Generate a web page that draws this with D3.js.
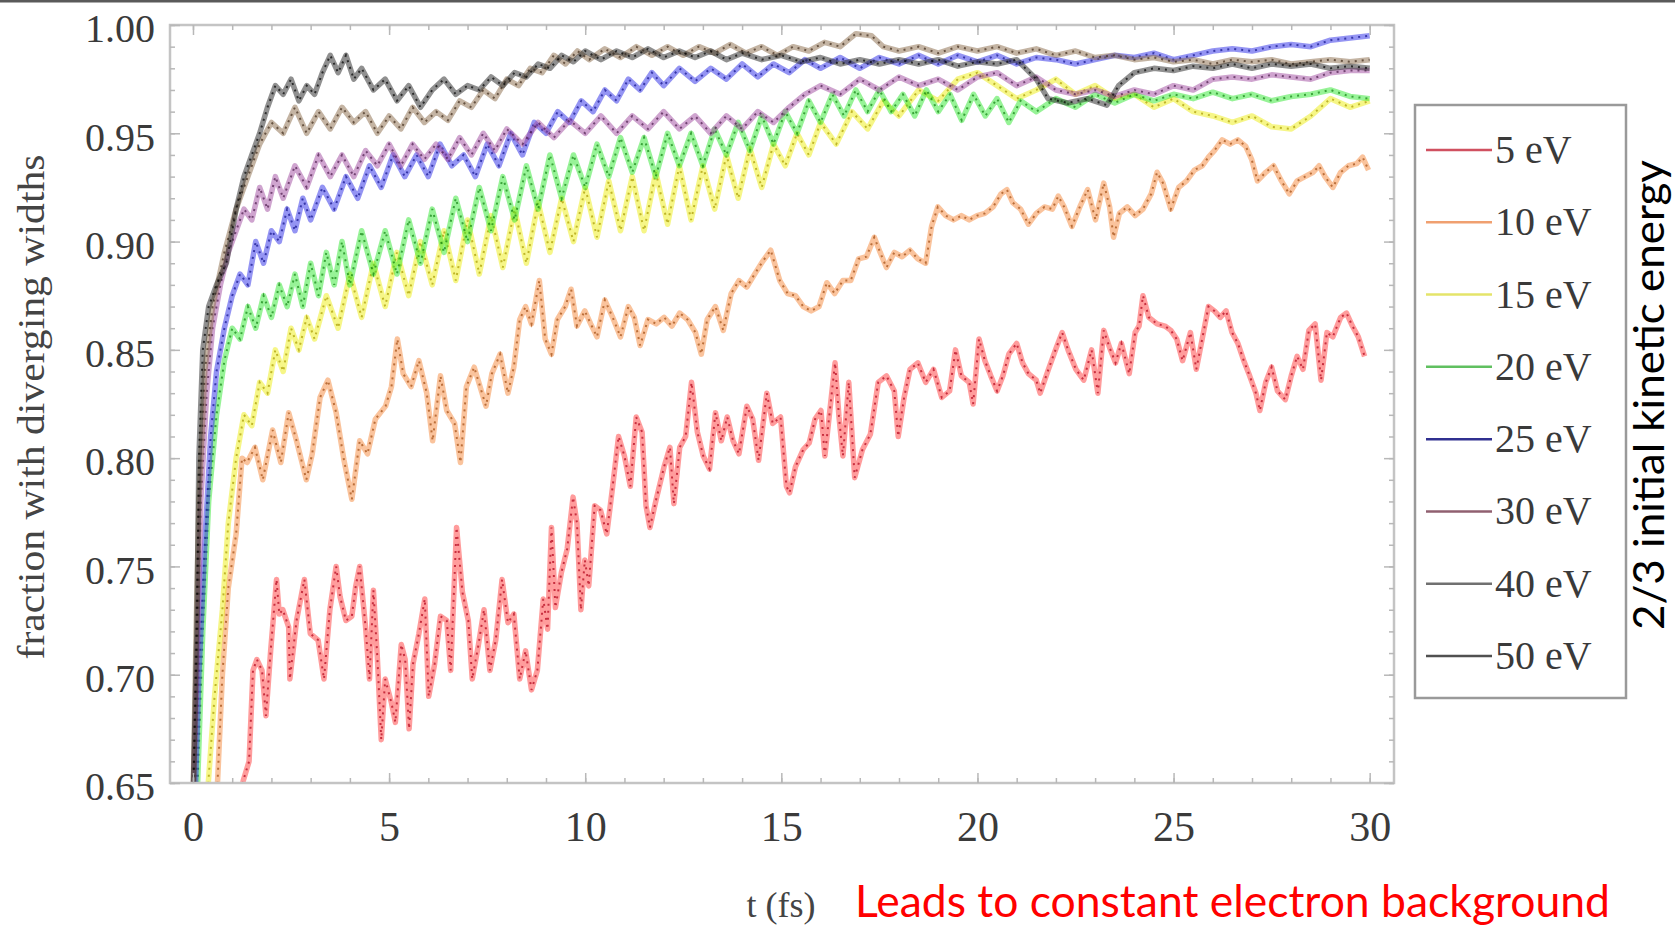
<!DOCTYPE html>
<html>
<head>
<meta charset="utf-8">
<script src="https://cdn.jsdelivr.net/npm/d3@7/dist/d3.min.js"></script>
<style>
  html, body { margin: 0; padding: 0; background: #fff; }
  svg { display: block; }
</style>
</head>
<body>
<svg id="chart" width="1675" height="930"></svg>
<script>
// ---------------- data (t in fs, fraction) ----------------
const seriesNames = ["5 eV", "10 eV", "15 eV", "20 eV", "25 eV", "30 eV", "40 eV", "50 eV"];
const xTickValues = [0, 5, 10, 15, 20, 25, 30];
const yTickValues = [0.65, 0.70, 0.75, 0.80, 0.85, 0.90, 0.95, 1.00];
const yLabel = "fraction with diverging widths";
const xLabel = "t (fs)";
const sideNote = "2/3 initial kinetic energy";
const footNote = "Leads to constant electron background";

const ev5 = [[1.2,0.64],[1.28,0.651],[1.43,0.660],[1.53,0.702],[1.63,0.707],[1.76,0.702],[1.86,0.681],[1.98,0.711],[2.13,0.744],[2.2,0.728],[2.29,0.730],[2.44,0.722],[2.47,0.698],[2.64,0.725],[2.84,0.744],[2.99,0.719],[3.19,0.716],[3.34,0.698],[3.49,0.730],[3.65,0.750],[3.75,0.736],[3.9,0.725],[4.05,0.727],[4.15,0.741],[4.25,0.750],[4.4,0.722],[4.5,0.698],[4.6,0.739],[4.7,0.708],[4.8,0.670],[4.9,0.698],[5.06,0.687],[5.16,0.678],[5.31,0.714],[5.41,0.707],[5.51,0.675],[5.61,0.705],[5.76,0.719],[5.91,0.735],[6.01,0.690],[6.16,0.705],[6.31,0.727],[6.47,0.725],[6.57,0.702],[6.72,0.768],[6.87,0.738],[7.02,0.725],[7.12,0.698],[7.27,0.713],[7.42,0.730],[7.57,0.702],[7.72,0.716],[7.88,0.744],[8.03,0.724],[8.18,0.728],[8.33,0.698],[8.48,0.711],[8.63,0.693],[8.78,0.702],[8.93,0.735],[9.04,0.721],[9.14,0.768],[9.24,0.731],[9.39,0.747],[9.54,0.758],[9.69,0.782],[9.79,0.770],[9.89,0.730],[9.99,0.753],[10.09,0.741],[10.24,0.778],[10.39,0.776],[10.55,0.765],[10.7,0.787],[10.85,0.810],[11.0,0.801],[11.15,0.787],[11.3,0.819],[11.45,0.812],[11.55,0.778],[11.65,0.768],[11.81,0.781],[12.01,0.796],[12.16,0.805],[12.26,0.779],[12.41,0.805],[12.56,0.810],[12.71,0.835],[12.86,0.812],[13.01,0.801],[13.17,0.795],[13.32,0.821],[13.47,0.808],[13.62,0.819],[13.77,0.808],[13.92,0.802],[14.12,0.824],[14.27,0.818],[14.42,0.799],[14.63,0.830],[14.78,0.816],[14.98,0.819],[15.13,0.787],[15.21,0.784],[15.36,0.796],[15.56,0.804],[15.71,0.807],[15.86,0.818],[16.01,0.822],[16.11,0.801],[16.37,0.844],[16.47,0.819],[16.57,0.801],[16.72,0.835],[16.87,0.791],[17.07,0.804],[17.27,0.811],[17.47,0.835],[17.68,0.838],[17.88,0.831],[17.98,0.810],[18.13,0.828],[18.28,0.841],[18.48,0.844],[18.68,0.835],[18.88,0.841],[19.09,0.828],[19.29,0.831],[19.44,0.850],[19.59,0.838],[19.79,0.835],[19.89,0.825],[20.04,0.855],[20.19,0.845],[20.34,0.838],[20.5,0.831],[20.65,0.838],[20.8,0.848],[21.0,0.853],[21.15,0.844],[21.3,0.839],[21.5,0.836],[21.6,0.830],[21.81,0.841],[22.01,0.851],[22.16,0.858],[22.31,0.850],[22.51,0.841],[22.71,0.836],[22.91,0.850],[23.07,0.830],[23.22,0.859],[23.37,0.851],[23.52,0.844],[23.67,0.853],[23.87,0.839],[24.02,0.858],[24.12,0.861],[24.22,0.875],[24.37,0.865],[24.58,0.862],[24.78,0.861],[24.93,0.859],[25.08,0.855],[25.23,0.845],[25.43,0.858],[25.58,0.841],[25.73,0.855],[25.89,0.870],[26.04,0.868],[26.19,0.865],[26.34,0.868],[26.49,0.858],[26.64,0.853],[26.79,0.845],[26.94,0.838],[27.1,0.830],[27.2,0.822],[27.35,0.835],[27.5,0.842],[27.65,0.831],[27.85,0.827],[28.0,0.838],[28.15,0.847],[28.3,0.841],[28.45,0.859],[28.61,0.862],[28.76,0.836],[28.91,0.858],[29.06,0.856],[29.26,0.865],[29.41,0.867],[29.56,0.861],[29.71,0.856],[29.87,0.847]];

const ev10 = [[0.6,0.64],[0.75,0.70],[0.9,0.74],[1.1,0.765],[1.25,0.80],[1.38,0.798],[1.58,0.805],[1.78,0.790],[2.03,0.813],[2.24,0.798],[2.44,0.821],[2.64,0.808],[2.89,0.790],[3.04,0.802],[3.24,0.828],[3.44,0.836],[3.65,0.821],[3.85,0.799],[4.05,0.781],[4.25,0.808],[4.45,0.802],[4.65,0.818],[4.91,0.824],[5.06,0.833],[5.21,0.855],[5.36,0.839],[5.56,0.833],[5.76,0.845],[5.96,0.830],[6.11,0.808],[6.31,0.838],[6.47,0.822],[6.67,0.816],[6.82,0.798],[6.97,0.833],[7.17,0.842],[7.32,0.833],[7.47,0.824],[7.62,0.839],[7.83,0.848],[8.03,0.830],[8.18,0.842],[8.33,0.864],[8.48,0.870],[8.63,0.862],[8.83,0.882],[8.98,0.855],[9.14,0.848],[9.29,0.864],[9.49,0.870],[9.64,0.878],[9.79,0.861],[9.99,0.868],[10.14,0.862],[10.3,0.856],[10.5,0.873],[10.7,0.865],[10.9,0.856],[11.1,0.870],[11.25,0.865],[11.4,0.852],[11.6,0.864],[11.81,0.862],[12.01,0.865],[12.21,0.861],[12.41,0.867],[12.61,0.864],[12.81,0.858],[12.96,0.848],[13.11,0.864],[13.32,0.870],[13.52,0.859],[13.72,0.876],[13.92,0.882],[14.12,0.879],[14.32,0.885],[14.53,0.891],[14.73,0.896],[14.96,0.882],[15.16,0.876],[15.36,0.875],[15.56,0.870],[15.76,0.868],[15.96,0.870],[16.16,0.881],[16.36,0.876],[16.57,0.882],[16.77,0.882],[16.97,0.892],[17.17,0.893],[17.37,0.902],[17.52,0.895],[17.68,0.888],[17.88,0.895],[18.08,0.893],[18.28,0.896],[18.48,0.892],[18.68,0.890],[18.83,0.907],[18.99,0.916],[19.19,0.912],[19.39,0.910],[19.59,0.912],[19.79,0.910],[19.99,0.912],[20.19,0.913],[20.4,0.916],[20.6,0.922],[20.75,0.924],[20.9,0.918],[21.1,0.915],[21.3,0.908],[21.5,0.913],[21.71,0.916],[21.91,0.915],[22.06,0.921],[22.21,0.916],[22.41,0.907],[22.61,0.916],[22.81,0.924],[23.01,0.910],[23.22,0.927],[23.37,0.916],[23.47,0.902],[23.62,0.913],[23.82,0.916],[24.02,0.912],[24.22,0.915],[24.43,0.922],[24.58,0.932],[24.73,0.927],[24.93,0.915],[25.13,0.925],[25.33,0.928],[25.53,0.933],[25.73,0.935],[25.89,0.939],[26.04,0.942],[26.24,0.947],[26.44,0.945],[26.64,0.947],[26.84,0.944],[26.99,0.938],[27.14,0.928],[27.35,0.932],[27.55,0.935],[27.75,0.928],[27.95,0.922],[28.15,0.928],[28.35,0.930],[28.56,0.932],[28.71,0.935],[28.86,0.930],[29.06,0.925],[29.26,0.932],[29.46,0.935],[29.67,0.936],[29.82,0.939],[29.97,0.933]];

const ev15 = [[0.35,0.64],[0.55,0.69],[0.75,0.73],[0.9,0.77],[1.1,0.80],[1.3,0.82],[1.5,0.815],[1.7,0.835],[1.9,0.83],[2.1,0.85],[2.3,0.84],[2.5,0.86],[2.7,0.85],[2.9,0.865],[3.1,0.855],[3.4,0.875],[3.7,0.86],[4.0,0.885],[4.3,0.865],[4.6,0.89],[4.9,0.87],[5.2,0.895],[5.5,0.875],[5.8,0.9],[6.1,0.88],[6.4,0.905],[6.7,0.882],[7.0,0.91],[7.3,0.885],[7.6,0.912],[7.9,0.888],[8.2,0.915],[8.5,0.89],[8.8,0.918],[9.1,0.895],[9.4,0.92],[9.7,0.9],[10.0,0.925],[10.3,0.902],[10.6,0.928],[10.9,0.905],[11.2,0.93],[11.5,0.905],[11.8,0.932],[12.1,0.908],[12.4,0.935],[12.7,0.91],[13.0,0.935],[13.3,0.915],[13.6,0.94],[13.9,0.92],[14.2,0.943],[14.5,0.925],[14.8,0.945],[15.1,0.935],[15.4,0.95],[15.7,0.94],[16.0,0.955],[16.4,0.945],[16.8,0.96],[17.2,0.952],[17.6,0.965],[18.0,0.958],[18.5,0.97],[19.0,0.965],[19.5,0.975],[20.0,0.978],[20.5,0.972],[21.0,0.966],[21.5,0.97],[22.0,0.975],[22.5,0.968],[23.0,0.972],[23.5,0.966],[24.0,0.968],[24.5,0.962],[25.0,0.966],[25.5,0.96],[26.0,0.958],[26.5,0.955],[27.0,0.958],[27.5,0.953],[28.0,0.952],[28.5,0.958],[29.0,0.966],[29.5,0.962],[30.0,0.965]];

const ev20 = [[0.1,0.64],[0.25,0.72],[0.4,0.78],[0.6,0.82],[0.8,0.845],[1.0,0.86],[1.2,0.855],[1.4,0.87],[1.6,0.86],[1.8,0.875],[2.0,0.865],[2.2,0.88],[2.4,0.87],[2.6,0.885],[2.8,0.87],[3.0,0.89],[3.2,0.875],[3.4,0.895],[3.6,0.88],[3.8,0.9],[4.0,0.88],[4.3,0.905],[4.6,0.885],[4.9,0.905],[5.2,0.885],[5.5,0.91],[5.8,0.89],[6.1,0.915],[6.4,0.895],[6.7,0.92],[7.0,0.9],[7.3,0.925],[7.6,0.905],[7.9,0.93],[8.2,0.91],[8.5,0.935],[8.8,0.915],[9.1,0.94],[9.4,0.92],[9.7,0.94],[10.0,0.925],[10.3,0.945],[10.6,0.93],[10.9,0.948],[11.2,0.932],[11.5,0.948],[11.8,0.93],[12.1,0.95],[12.4,0.935],[12.7,0.95],[13.0,0.935],[13.3,0.952],[13.6,0.94],[13.9,0.955],[14.2,0.942],[14.5,0.958],[14.8,0.945],[15.1,0.96],[15.4,0.95],[15.7,0.965],[16.0,0.955],[16.3,0.968],[16.6,0.958],[16.9,0.97],[17.2,0.96],[17.5,0.97],[17.8,0.96],[18.1,0.968],[18.4,0.958],[18.7,0.97],[19.0,0.96],[19.3,0.968],[19.6,0.956],[19.9,0.968],[20.2,0.958],[20.5,0.966],[20.8,0.955],[21.1,0.965],[21.5,0.96],[22.0,0.966],[22.5,0.962],[23.0,0.968],[23.5,0.964],[24.0,0.968],[24.5,0.965],[25.0,0.968],[25.5,0.966],[26.0,0.969],[26.5,0.966],[27.0,0.968],[27.5,0.965],[28.0,0.967],[28.5,0.968],[29.0,0.97],[29.5,0.967],[30.0,0.966]];

const ev25 = [[0.05,0.64],[0.15,0.70],[0.3,0.76],[0.45,0.81],[0.6,0.84],[0.8,0.86],[1.0,0.875],[1.2,0.885],[1.4,0.88],[1.6,0.9],[1.8,0.89],[2.0,0.905],[2.2,0.9],[2.4,0.915],[2.6,0.905],[2.8,0.92],[3.0,0.91],[3.3,0.925],[3.6,0.915],[3.9,0.93],[4.2,0.92],[4.5,0.935],[4.8,0.925],[5.1,0.94],[5.4,0.93],[5.7,0.94],[6.0,0.93],[6.3,0.945],[6.6,0.935],[6.9,0.94],[7.2,0.93],[7.5,0.945],[7.8,0.935],[8.1,0.95],[8.4,0.94],[8.7,0.955],[9.0,0.95],[9.3,0.96],[9.6,0.955],[9.9,0.965],[10.2,0.96],[10.5,0.97],[10.8,0.965],[11.1,0.975],[11.4,0.97],[11.7,0.978],[12.0,0.972],[12.4,0.98],[12.8,0.974],[13.2,0.98],[13.6,0.975],[14.0,0.982],[14.4,0.976],[14.8,0.982],[15.2,0.978],[15.6,0.984],[16.0,0.98],[16.5,0.985],[17.0,0.98],[17.5,0.985],[18.0,0.982],[18.5,0.986],[19.0,0.982],[19.5,0.986],[20.0,0.983],[20.5,0.986],[21.0,0.982],[21.5,0.985],[22.0,0.984],[22.5,0.982],[23.0,0.984],[23.5,0.986],[24.0,0.985],[24.5,0.987],[25.0,0.984],[25.5,0.986],[26.0,0.988],[26.5,0.989],[27.0,0.988],[27.5,0.99],[28.0,0.991],[28.5,0.99],[29.0,0.993],[29.5,0.994],[30.0,0.995]];

const ev30 = [[0,0.64],[0.1,0.70],[0.2,0.78],[0.35,0.83],[0.5,0.86],[0.7,0.88],[0.9,0.895],[1.1,0.905],[1.3,0.915],[1.5,0.91],[1.7,0.925],[1.9,0.915],[2.1,0.93],[2.3,0.92],[2.6,0.935],[2.9,0.925],[3.2,0.94],[3.5,0.93],[3.8,0.94],[4.1,0.93],[4.4,0.942],[4.7,0.935],[5.0,0.945],[5.3,0.935],[5.6,0.945],[5.9,0.938],[6.2,0.945],[6.5,0.938],[6.8,0.948],[7.1,0.94],[7.4,0.95],[7.7,0.942],[8.0,0.952],[8.4,0.945],[8.8,0.955],[9.2,0.948],[9.6,0.956],[10.0,0.95],[10.4,0.958],[10.8,0.95],[11.2,0.958],[11.6,0.952],[12.0,0.96],[12.4,0.952],[12.8,0.958],[13.2,0.95],[13.6,0.958],[14.0,0.952],[14.4,0.96],[14.8,0.955],[15.2,0.962],[15.6,0.968],[16.0,0.972],[16.5,0.968],[17.0,0.975],[17.5,0.97],[18.0,0.976],[18.5,0.972],[19.0,0.975],[19.5,0.97],[20.0,0.976],[20.5,0.978],[21.0,0.972],[21.5,0.976],[22.0,0.97],[22.5,0.968],[23.0,0.97],[23.5,0.967],[24.0,0.97],[24.5,0.968],[25.0,0.972],[25.5,0.97],[26.0,0.975],[26.5,0.976],[27.0,0.975],[27.5,0.977],[28.0,0.976],[28.5,0.975],[29.0,0.978],[29.5,0.979],[30.0,0.979]];

const ev40 = [[0,0.64],[0.08,0.72],[0.15,0.78],[0.3,0.84],[0.5,0.87],[0.8,0.895],[1.1,0.915],[1.4,0.93],[1.7,0.945],[2.0,0.955],[2.3,0.95],[2.6,0.962],[2.9,0.95],[3.2,0.96],[3.5,0.952],[3.8,0.962],[4.1,0.955],[4.4,0.96],[4.7,0.95],[5.0,0.958],[5.3,0.952],[5.6,0.962],[5.9,0.955],[6.2,0.96],[6.5,0.956],[6.8,0.965],[7.1,0.962],[7.4,0.97],[7.7,0.966],[8.0,0.975],[8.3,0.972],[8.6,0.98],[8.9,0.978],[9.2,0.986],[9.5,0.982],[9.8,0.988],[10.1,0.984],[10.5,0.989],[10.9,0.985],[11.3,0.99],[11.7,0.986],[12.1,0.99],[12.5,0.986],[12.9,0.99],[13.3,0.987],[13.7,0.991],[14.1,0.987],[14.5,0.99],[14.9,0.986],[15.3,0.99],[15.7,0.988],[16.1,0.992],[16.5,0.99],[16.9,0.996],[17.3,0.995],[17.6,0.99],[18.0,0.988],[18.5,0.99],[19.0,0.987],[19.5,0.99],[20.0,0.988],[20.5,0.99],[21.0,0.987],[21.5,0.989],[22.0,0.986],[22.5,0.988],[23.0,0.985],[23.5,0.986],[24.0,0.984],[24.5,0.985],[25.0,0.983],[25.5,0.984],[26.0,0.982],[26.5,0.984],[27.0,0.983],[27.5,0.984],[28.0,0.982],[28.5,0.983],[29.0,0.984],[29.5,0.983],[30.0,0.984]];

const ev50 = [[0,0.64],[0.1,0.72],[0.15,0.80],[0.25,0.85],[0.4,0.87],[0.6,0.88],[0.85,0.89],[1.1,0.915],[1.3,0.93],[1.5,0.94],[1.7,0.95],[1.9,0.962],[2.1,0.972],[2.3,0.968],[2.5,0.975],[2.7,0.965],[2.9,0.972],[3.1,0.968],[3.3,0.978],[3.5,0.986],[3.7,0.978],[3.9,0.986],[4.1,0.975],[4.3,0.98],[4.6,0.97],[4.9,0.975],[5.2,0.965],[5.5,0.972],[5.8,0.962],[6.1,0.97],[6.4,0.975],[6.7,0.968],[7.0,0.972],[7.3,0.97],[7.6,0.976],[7.9,0.972],[8.2,0.978],[8.5,0.976],[8.8,0.982],[9.1,0.98],[9.4,0.986],[9.7,0.983],[10.0,0.988],[10.4,0.984],[10.8,0.988],[11.2,0.985],[11.6,0.989],[12.0,0.985],[12.4,0.988],[12.8,0.985],[13.2,0.988],[13.6,0.984],[14.0,0.987],[14.5,0.984],[15.0,0.986],[15.5,0.983],[16.0,0.985],[16.5,0.982],[17.0,0.984],[17.5,0.982],[18.0,0.984],[18.5,0.982],[19.0,0.984],[19.5,0.981],[20.0,0.983],[20.5,0.982],[21.0,0.984],[21.5,0.975],[21.8,0.966],[22.3,0.964],[22.8,0.966],[23.3,0.963],[23.6,0.972],[24.0,0.978],[24.5,0.98],[25.0,0.979],[25.5,0.981],[26.0,0.98],[26.5,0.982],[27.0,0.98],[27.5,0.982],[28.0,0.981],[28.5,0.982],[29.0,0.98],[29.5,0.981],[30.0,0.98]];

const seriesData = [ev5, ev10, ev15, ev20, ev25, ev30, ev40, ev50];

// ---------------- styles ----------------
const lineColors = ["#ff3a3a", "#f5883a", "#eeee10", "#30e830", "#2a2ae8", "#a04aa0", "#8a6a48", "#222222"];
const dotColors  = ["#b00018", "#a04a10", "#a89a00", "#108010", "#10108a", "#4a1a4a", "#3e2a18", "#000000"];
const legendColors = ["#d05060", "#f0a070", "#e4e46a", "#60c060", "#303090", "#906070", "#707070", "#505050"];

const W = 1675, H = 930;
const frame = {left: 170, right: 1394, top: 25, bottom: 783};

const svg = d3.select("#chart");
svg.append("rect").attr("width", W).attr("height", H).attr("fill", "#fff");
// slide border on top
svg.append("rect").attr("x", 0).attr("y", 0).attr("width", W).attr("height", 2.5).attr("fill", "#5a5a5a");

const x = d3.scaleLinear().domain([-0.586, 30.62]).range([frame.left, frame.right]);
const y = d3.scaleLinear().domain([0.65, 1.0]).range([frame.bottom, frame.top]);

svg.append("defs").append("clipPath").attr("id", "plotclip")
  .append("rect").attr("x", frame.left).attr("y", frame.top)
  .attr("width", frame.right - frame.left).attr("height", frame.bottom - frame.top);

// ---------------- series ----------------
const line = d3.line().x(d => x(d[0])).y(d => y(d[1]));
const plot = svg.append("g").attr("clip-path", "url(#plotclip)");
seriesData.forEach((data, i) => {
  plot.append("path").datum(data).attr("d", line)
    .attr("fill", "none").attr("stroke", lineColors[i])
    .attr("stroke-width", 5.5).attr("stroke-opacity", 0.5)
    .attr("stroke-linejoin", "round");
  plot.append("path").datum(data).attr("d", line)
    .attr("fill", "none").attr("stroke", dotColors[i])
    .attr("stroke-width", 2).attr("stroke-opacity", 0.7)
    .attr("stroke-dasharray", "2 5");
});

// ---------------- frame & axes ----------------
const gridColor = "#c4c4c4";
svg.append("rect").attr("x", frame.left).attr("y", frame.top)
  .attr("width", frame.right - frame.left).attr("height", frame.bottom - frame.top)
  .attr("fill", "none").attr("stroke", gridColor).attr("stroke-width", 2.5);

const xMinor = d3.range(0, 31, 1);
const yMinor = d3.range(65, 101, 1).map(v => v / 100);

function styleAxis(g) {
  g.select(".domain").remove();
  g.selectAll(".tick line").attr("stroke", "#b8b8b8").attr("stroke-width", 1.5);
}

// bottom
svg.append("g").attr("transform", `translate(0,${frame.bottom})`)
  .call(d3.axisBottom(x).tickValues(xMinor).tickSize(-5).tickFormat(""))
  .call(styleAxis);
const xb = svg.append("g").attr("transform", `translate(0,${frame.bottom})`)
  .call(d3.axisBottom(x).tickValues(xTickValues).tickSize(-10).tickPadding(28).tickFormat(d3.format("d")))
  .call(styleAxis);
xb.selectAll("text").attr("font-family", "'Liberation Serif', serif").attr("font-size", 42).attr("fill", "#3a3a3a");
// top
svg.append("g").attr("transform", `translate(0,${frame.top})`)
  .call(d3.axisTop(x).tickValues(xMinor).tickSize(-5).tickFormat(""))
  .call(styleAxis);
svg.append("g").attr("transform", `translate(0,${frame.top})`)
  .call(d3.axisTop(x).tickValues(xTickValues).tickSize(-10).tickFormat(""))
  .call(styleAxis);
// left
svg.append("g").attr("transform", `translate(${frame.left},0)`)
  .call(d3.axisLeft(y).tickValues(yMinor).tickSize(-5).tickFormat(""))
  .call(styleAxis);
const yl = svg.append("g").attr("transform", `translate(${frame.left},0)`)
  .call(d3.axisLeft(y).tickValues(yTickValues).tickSize(-10).tickPadding(15).tickFormat(d3.format(".2f")))
  .call(styleAxis);
yl.selectAll("text").attr("font-family", "'Liberation Serif', serif").attr("font-size", 40)
  .attr("fill", "#3a3a3a").attr("dy", "0.42em");
// right
svg.append("g").attr("transform", `translate(${frame.right},0)`)
  .call(d3.axisRight(y).tickValues(yMinor).tickSize(-5).tickFormat(""))
  .call(styleAxis);
svg.append("g").attr("transform", `translate(${frame.right},0)`)
  .call(d3.axisRight(y).tickValues(yTickValues).tickSize(-10).tickFormat(""))
  .call(styleAxis);

// axis titles
svg.append("text").attr("transform", "translate(44,407) rotate(-90)")
  .attr("text-anchor", "middle").attr("font-family", "'Liberation Serif', serif")
  .attr("font-size", 38).attr("fill", "#444").attr("textLength", 505).attr("lengthAdjust", "spacingAndGlyphs")
  .text(yLabel);
svg.append("text").attr("x", 781).attr("y", 917).attr("text-anchor", "middle")
  .attr("font-family", "'Liberation Serif', serif").attr("font-size", 36).attr("fill", "#444")
  .text(xLabel);

// ---------------- legend ----------------
const lg = svg.append("g");
lg.append("rect").attr("x", 1415).attr("y", 105).attr("width", 211).attr("height", 593)
  .attr("fill", "#fff").attr("stroke", "#9a9a9a").attr("stroke-width", 2.5);
const legendY = d3.scalePoint().domain(seriesNames).range([150, 656]);
seriesNames.forEach((name, i) => {
  const yy = legendY(name);
  lg.append("line").attr("x1", 1426).attr("x2", 1492).attr("y1", yy).attr("y2", yy)
    .attr("stroke", legendColors[i]).attr("stroke-width", 2.5);
  lg.append("text").attr("x", 1495).attr("y", yy + 13)
    .attr("font-family", "'Liberation Serif', serif").attr("font-size", 40).attr("fill", "#3a3a3a")
    .text(name);
});

// ---------------- annotations ----------------
svg.append("text").attr("transform", "translate(1664,395) rotate(-90)")
  .attr("text-anchor", "middle").attr("font-family", "Lato, 'Open Sans', sans-serif")
  .attr("font-size", 42).attr("fill", "#000").attr("textLength", 470).attr("lengthAdjust", "spacingAndGlyphs")
  .text(sideNote);
svg.append("text").attr("x", 855).attr("y", 917)
  .attr("font-family", "Lato, 'Open Sans', sans-serif").attr("font-size", 44).attr("fill", "#ff0000")
  .attr("textLength", 755).attr("lengthAdjust", "spacingAndGlyphs")
  .text(footNote);
</script>
</body>
</html>
